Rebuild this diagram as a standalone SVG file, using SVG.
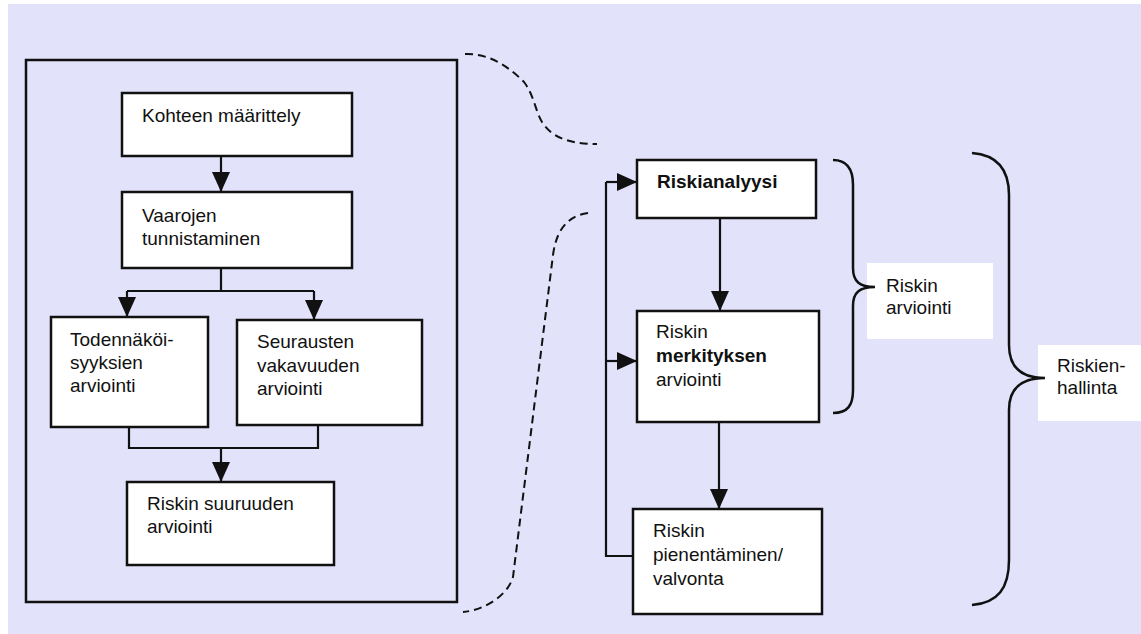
<svg xmlns="http://www.w3.org/2000/svg" width="1141" height="634" viewBox="0 0 1141 634">
<defs>
<style>
.box{fill:#fff;stroke:#111;stroke-width:2.5}
.ln{fill:none;stroke:#111;stroke-width:2.2}
.dash{fill:none;stroke:#111;stroke-width:2;stroke-dasharray:8,5}
.br{fill:none;stroke:#111;stroke-width:2.5}
text{font-family:"Liberation Sans",Arial,sans-serif;font-size:19px;fill:#111}
.b{font-weight:bold}
</style>
<marker id="ah" markerUnits="userSpaceOnUse" markerWidth="20" markerHeight="18" refX="20" refY="9" orient="auto">
<path d="M0,0 L20,9 L0,18 z" fill="#111"/>
</marker>
</defs>
<rect x="0" y="0" width="1141" height="634" fill="#fff"/>
<rect x="8" y="4" width="1133" height="630" fill="#e2e2fa"/>
<rect x="26" y="60" width="431" height="542" fill="none" stroke="#111" stroke-width="2.5"/>

<g id="n1"><rect class="box" x="122" y="93" width="230" height="63"/><text x="142" y="122">Kohteen määrittely</text></g>
<g id="n2"><rect class="box" x="122" y="192" width="230" height="76"/><text x="142" y="222">Vaarojen</text><text x="142" y="245">tunnistaminen</text></g>
<g id="n3"><rect class="box" x="51" y="317" width="157" height="110"/><text x="70" y="346">Todennäköi-</text><text x="70" y="369">syyksien</text><text x="70" y="392">arviointi</text></g>
<g id="n4"><rect class="box" x="237" y="320" width="185" height="105"/><text x="257" y="348">Seurausten</text><text x="257" y="372">vakavuuden</text><text x="257" y="395">arviointi</text></g>
<g id="n5"><rect class="box" x="127" y="482" width="207" height="83"/><text x="147" y="510">Riskin suuruuden</text><text x="147" y="533">arviointi</text></g>

<g id="r1"><rect class="box" x="637" y="160" width="179" height="58"/><text class="b" x="657" y="188">Riskianalyysi</text></g>
<g id="r2"><rect class="box" x="637" y="311" width="182" height="111"/><text x="656" y="338">Riskin</text><text class="b" x="656" y="362">merkityksen</text><text x="656" y="386">arviointi</text></g>
<g id="r3"><rect class="box" x="633" y="509" width="189" height="105"/><text x="653" y="537">Riskin</text><text x="653" y="561">pienentäminen/</text><text x="653" y="585">valvonta</text></g>

<g id="l1"><rect x="867" y="263" width="126" height="76" fill="#fff"/><text x="886" y="292">Riskin</text><text x="886" y="314">arviointi</text></g>
<g id="l2"><rect x="1038" y="345" width="103" height="76" fill="#fff"/><text x="1057" y="372">Riskien-</text><text x="1057" y="394">hallinta</text></g>

<g id="connectors">
<path class="ln" d="M221,156 V192" marker-end="url(#ah)"/>
<path class="ln" d="M221,268 V291 M127,291 H314"/>
<path class="ln" d="M127,291 V317" marker-end="url(#ah)"/>
<path class="ln" d="M314,291 V320" marker-end="url(#ah)"/>
<path class="ln" d="M129,427 V448 H318 V425"/>
<path class="ln" d="M221,448 V482" marker-end="url(#ah)"/>
<path class="ln" d="M720,218 V311" marker-end="url(#ah)"/>
<path class="ln" d="M719,422 V509" marker-end="url(#ah)"/>
<path class="ln" d="M633,556 H606 V182"/>
<path class="ln" d="M606,182 H637" marker-end="url(#ah)"/>
<path class="ln" d="M606,361 H637" marker-end="url(#ah)"/>
<path class="dash" d="M465,54 C490,53 510,68 524,82 C534,95 535,110 542,122 C550,135 565,144 597,144"/>
<path class="dash" d="M588,213 C566,216 556,232 553,255 L513,577 C508,595 485,610 463,612"/>
<path class="br" d="M833,160 C848,160 853,170 853,185 V268 C853,282 860,287 875,287 C860,287 853,292 853,306 V390 C853,405 848,413 833,413"/>
<path class="br" d="M972,153 C998,155 1009,170 1009,195 V345 C1009,368 1022,378 1045,378 C1022,378 1009,388 1009,410 V560 C1009,588 998,603 972,605"/>
</g>
</svg>
